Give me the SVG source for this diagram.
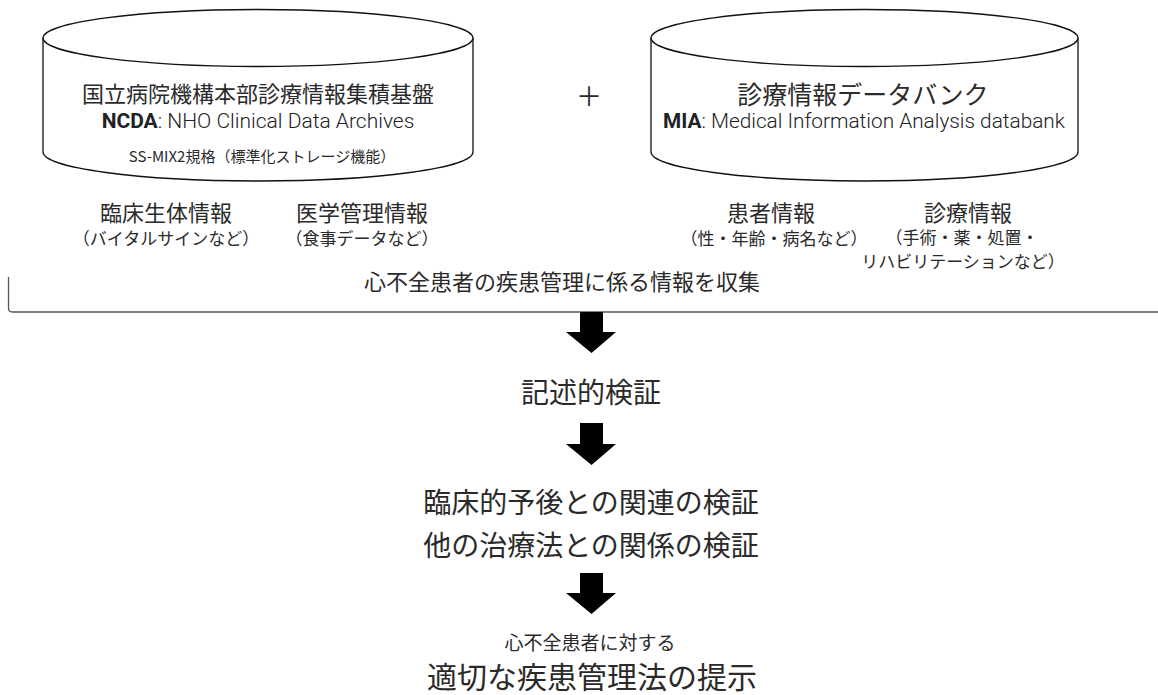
<svg xmlns="http://www.w3.org/2000/svg" width="1158" height="695" viewBox="0 0 1158 695">
<style>
.jp{font-family:"Noto Sans CJK JP","Noto Sans",sans-serif;font-weight:400;fill:#2a2a2a;text-anchor:middle}
.en{font-family:Roboto,"Noto Sans","Noto Sans CJK JP",sans-serif;font-weight:300;fill:#222;text-anchor:middle}
.cyl{fill:#fff;stroke:#111;stroke-width:1.3}
.arrow{fill:#000}
.brace{fill:none;stroke:#555;stroke-width:1.3}
</style>
<rect width="1158" height="695" fill="#fff"/>
<g id="ncda">
  <path class="cyl" d="M43,38 L43,152 A215,29 0 0 0 473,152 L473,38"/>
  <ellipse class="cyl" cx="258" cy="38" rx="215" ry="28.5"/>
  <text class="jp" x="258" y="102" font-size="22">国立病院機構本部診療情報集積基盤</text>
  <text class="en" x="258" y="128" font-size="21"><tspan font-weight="700">NCDA</tspan>: NHO Clinical Data Archives</text>
  <text class="jp" x="262" y="162" font-size="15">SS-MIX2規格（標準化ストレージ機能）</text>
</g>
<g id="plus">
  <text class="jp" x="589" y="106" font-size="26">＋</text>
</g>
<g id="mia">
  <path class="cyl" d="M651,38 L651,152 A213.5,29 0 0 0 1078,152 L1078,38"/>
  <ellipse class="cyl" cx="864.5" cy="38" rx="213.5" ry="28.5"/>
  <text class="jp" x="863" y="104" font-size="25">診療情報データバンク</text>
  <text class="en" x="864" y="128" font-size="20.8"><tspan font-weight="700">MIA</tspan>: Medical Information Analysis databank</text>
</g>
<g id="vital">
  <text class="jp" x="166" y="221" font-size="22">臨床生体情報</text>
  <text class="jp" x="166" y="245" font-size="17">（バイタルサインなど）</text>
</g>
<g id="medmgmt">
  <text class="jp" x="362" y="221" font-size="22">医学管理情報</text>
  <text class="jp" x="362" y="245" font-size="17">（食事データなど）</text>
</g>
<g id="patient">
  <clipPath id="clipP"><rect x="600" y="227" width="256" height="24"/></clipPath>
  <text class="jp" x="771" y="221" font-size="22">患者情報</text>
  <text class="jp" x="774" y="245" font-size="17" clip-path="url(#clipP)">（性・年齢・病名など）</text>
</g>
<g id="treatment">
  <text class="jp" x="968" y="221" font-size="22">診療情報</text>
  <text class="jp" x="962" y="244" font-size="17">（手術・薬・処置・</text>
  <text class="jp" x="963" y="268" font-size="17">リハビリテーションなど）</text>
</g>
<g id="collect">
  <path class="brace" d="M8.5,277 L8.5,308 Q8.5,312 12.5,312 L1158,312"/>
  <text class="jp" x="562" y="290" font-size="22">心不全患者の疾患管理に係る情報を収集</text>
</g>
<g id="connectors">
  <polygon class="arrow" points="580,312 603,312 603,332 616,332 591.5,353 566,332 580,332"/>
  <polygon class="arrow" points="580,423 603,423 603,444 616,444 591.5,465 566,444 580,444"/>
  <polygon class="arrow" points="580,573 603,573 603,593 616,593 591.5,614 566,593 580,593"/>
</g>
<g id="descriptive">
  <text class="jp" x="591" y="403" font-size="28">記述的検証</text>
</g>
<g id="verify">
  <text class="jp" x="591" y="513" font-size="28">臨床的予後との関連の検証</text>
  <text class="jp" x="591" y="556" font-size="28">他の治療法との関係の検証</text>
</g>
<g id="result">
  <text class="jp" x="590" y="650" font-size="19">心不全患者に対する</text>
  <text class="jp" x="592" y="688" font-size="30">適切な疾患管理法の提示</text>
</g>
</svg>
